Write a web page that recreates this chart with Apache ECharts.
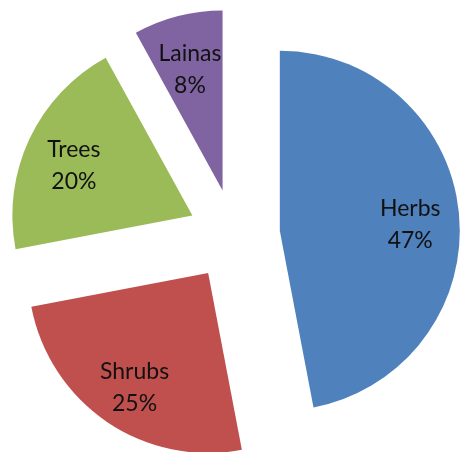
<!DOCTYPE html>
<html>
<head>
<meta charset="utf-8">
<script src="https://cdn.jsdelivr.net/npm/echarts@6/dist/echarts.min.js"></script>
<style>
  html, body { margin: 0; padding: 0; background: #fff; }
  #main { width: 460px; height: 452px; }
</style>
</head>
<body>
<div id="main"></div>
<script>
var names = ['Herbs', 'Shrubs', 'Trees', 'Lainas'];
var values = [47, 25, 20, 8];
var colors = ['#4F81BD', '#C0504D', '#9BBB59', '#8064A2'];

function pieData(withColor) {
  var out = [];
  for (var i = 0; i < names.length; i++) {
    out.push({
      name: names[i],
      value: values[i],
      selected: true,
      itemStyle: { color: withColor ? colors[i] : 'rgba(0,0,0,0)' }
    });
  }
  return out;
}

var el = echarts.init(document.getElementById('main'));
el.setOption({
  animation: false,
  series: [
    {
      type: 'pie',
      center: [234, 235],
      radius: [0, 180],
      startAngle: 90,
      clockwise: true,
      selectedMode: 'multiple',
      selectedOffset: 46,
      silent: true,
      label: { show: false },
      labelLine: { show: false },
      emphasis: { disabled: true },
      data: pieData(true)
    },
    {
      // transparent ring carrying the labels, a little lower and further out
      type: 'pie',
      z: 3,
      center: [234, 241],
      radius: [76, 180],
      startAngle: 90,
      clockwise: true,
      selectedMode: 'multiple',
      selectedOffset: 46,
      silent: true,
      labelLine: { show: false },
      emphasis: { disabled: true },
      label: {
        show: true,
        position: 'inside',
        formatter: '{b}\n{d}%',
        fontFamily: 'Lato',
        fontSize: 23,
        lineHeight: 32,
        color: '#111'
      },
      data: pieData(false)
    }
  ]
});
</script>
</body>
</html>
